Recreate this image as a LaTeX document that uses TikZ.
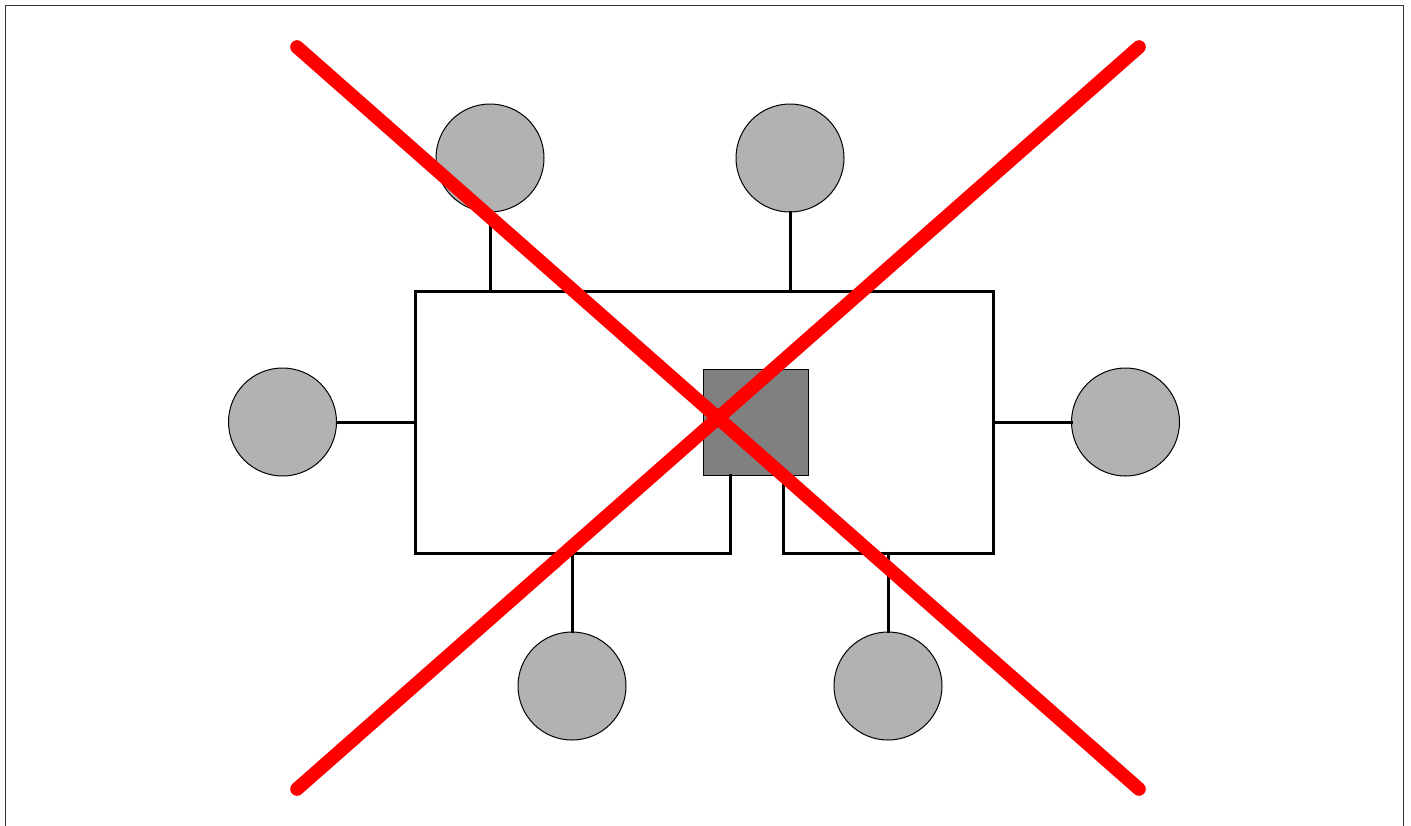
\documentclass[tikz,border=0pt]{standalone}
\begin{document}
\begin{tikzpicture}[x=0.5pt,y=-0.5pt,
  dev/.style={circle,draw=black,line width=0.5pt,fill=black!30,minimum size=54pt,inner sep=0pt},
  hub/.style={rectangle,draw=black,line width=0.5pt,fill=black!50,minimum width=52.5pt,minimum height=53pt,inner sep=0pt},
  wire/.style={line width=1.5pt,black,line cap=rect},
  cross/.style={line width=6.8pt,red,line cap=round}]
\useasboundingbox (0,0) rectangle (1411,825);
\draw[line width=0.5pt,black!80] (5,5) -- (5,830);
\draw[line width=0.5pt,black!80] (5,5) -- (1403,5) -- (1403,830);
% corners of the bus
\coordinate (tl) at (415,291);
\coordinate (tr) at (993,291);
\coordinate (bl) at (415,553);
\coordinate (br) at (993,553);
\coordinate (gl) at (730,553);
\coordinate (gr) at (783,553);
\coordinate (t1) at (490,291);
\coordinate (t2) at (790,291);
\coordinate (l1) at (415,422);
\coordinate (r1) at (993,422);
\coordinate (b1) at (572,553);
\coordinate (b2) at (888,553);
% hub
\node[hub] (h) at (755.5,422) {};
\coordinate (hl) at (730,475);
\coordinate (hr) at (783,475);
% devices
\node[dev] (d1) at (490,158) {};
\node[dev] (d2) at (790,158) {};
\node[dev] (d3) at (282.5,422) {};
\node[dev] (d4) at (1125.5,422) {};
\node[dev] (d5) at (572,686) {};
\node[dev] (d6) at (888,686) {};
% bus
\draw[wire] (gl) -- (bl) -- (tl) -- (tr) -- (br) -- (gr);
\draw[wire] (hl) -- (gl);
\draw[wire] (hr) -- (gr);
\draw[wire] (d1.south) -- (t1);
\draw[wire] (d2.south) -- (t2);
\draw[wire] (d3.east) -- (l1);
\draw[wire] (d4.west) -- (r1);
\draw[wire] (d5.north) -- (b1);
\draw[wire] (d6.north) -- (b2);
% cross
\coordinate (c1) at (297,47);
\coordinate (c2) at (1139,789);
\coordinate (c3) at (1139,47);
\coordinate (c4) at (297,789);
\draw[cross] (c1) -- (c2);
\draw[cross] (c3) -- (c4);
\end{tikzpicture}
\end{document}
